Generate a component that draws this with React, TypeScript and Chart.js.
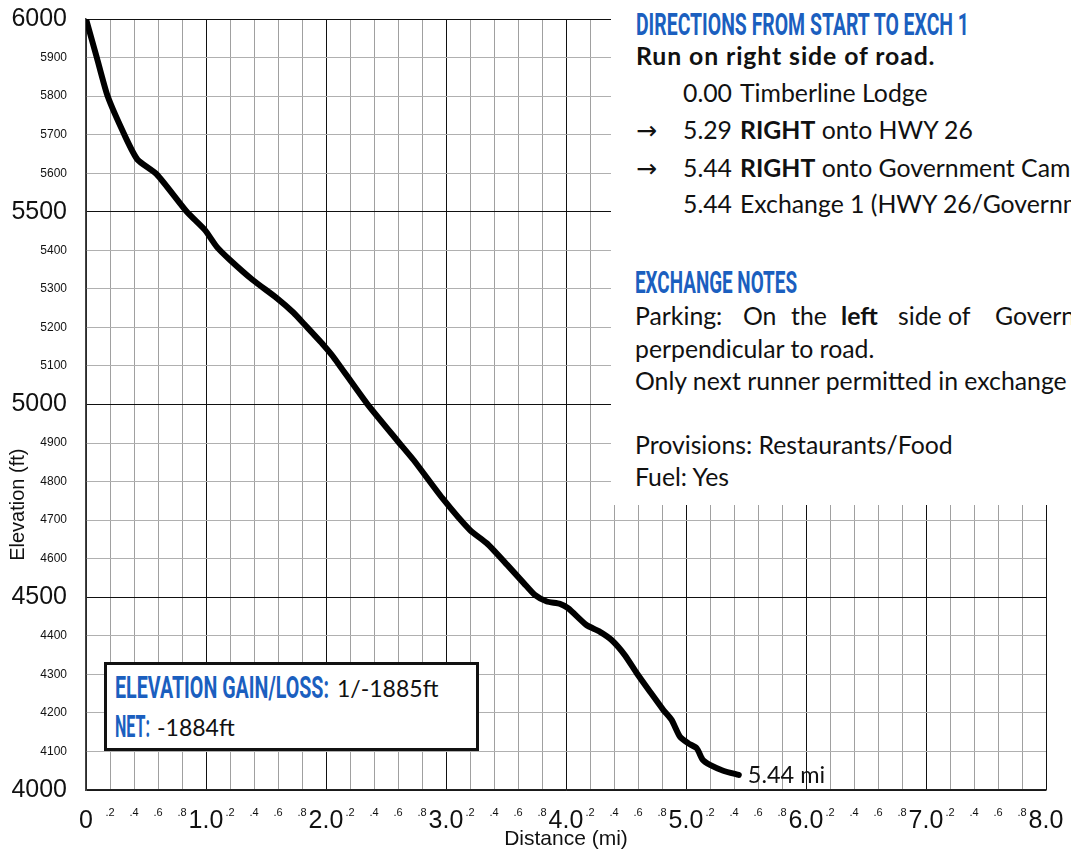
import React, { useEffect, useLayoutEffect, useRef } from "react";
import { Chart, registerables } from "chart.js";

Chart.register(...registerables);

// ---- data ----
const distanceMi = [
  0, 0.09, 0.18, 0.33, 0.43, 0.59, 0.84, 0.99, 1.09, 1.2, 1.39, 1.59, 1.73, 1.82, 1.98, 2.06, 2.34,
  2.59, 2.73, 2.97, 3.2, 3.34, 3.51, 3.65, 3.74, 3.84, 3.95, 4.02, 4.17, 4.28, 4.38, 4.49, 4.59,
  4.7, 4.81, 4.88, 4.95, 5.02, 5.09, 5.14, 5.2, 5.31, 5.44,
];
const elevationFt = [
  6000, 5900, 5800, 5693, 5635, 5597, 5500, 5453, 5409, 5375, 5323, 5276, 5238, 5208, 5154, 5124, 5003,
  4908, 4856, 4757, 4674, 4640, 4584, 4536, 4506, 4489, 4483, 4471, 4428, 4411, 4389, 4350, 4303,
  4255, 4208, 4182, 4138, 4121, 4108, 4078, 4065, 4050, 4039,
];
const xLimits = [0, 8];
const yLimits = [4000, 6000];
const xStepMi = 0.2;
const yStepFt = 100;
const yMajorStepFt = 500;
const xAxisTitle = "Distance (mi)";
const yAxisTitle = "Elevation (ft)";
const endLabel = "5.44 mi";

const directionsTitle = "DIRECTIONS FROM START TO EXCH 1";
const directionsNote = "Run on right side of road.";
const directionArrows = ["", "→", "→", ""];
const directionMiles = ["0.00", "5.29", "5.44", "5.44"];
const directionBold = ["", "RIGHT", "RIGHT", ""];
const directionText = [
  "Timberline Lodge",
  " onto HWY 26",
  " onto Government Camp Loop",
  "Exchange 1 (HWY 26/Government Camp Loop)",
];
const notesTitle = "EXCHANGE NOTES";
const parkingWords = ["Parking:", "On", "the", "left", "side", "of", "Government Camp Loop,"];
const parkingBold = [false, false, false, true, false, false, false];
const notesLines = [
  "perpendicular to road.",
  "Only next runner permitted in exchange area.",
  "",
  "Provisions: Restaurants/Food",
  "Fuel: Yes",
];
const gainLabel = "ELEVATION GAIN/LOSS:";
const gainValue = "1/-1885ft";
const netLabel = "NET:";
const netValue = "-1884ft";

// ---- styles ----
const BLUE = "#1b5fbf";
const INK = "#111";
const BODY = '"Lato", "Open Sans", sans-serif';
const HEAD = 'Roboto, "DejaVu Sans", sans-serif';
const TICKF = '"Liberation Sans", Arial, sans-serif';
const BODY_SIZE = 24.8;

const isMajorX = (v: number) => Math.abs(v - Math.round(v)) < 1e-6;
const isMajorY = (v: number) => Math.abs(v / yMajorStepFt - Math.round(v / yMajorStepFt)) < 1e-6;

const annotationPlugin = {
  id: "annotationText",
  afterDatasetsDraw(chart: any) {
    const { ctx, chartArea, scales } = chart;
    const xs = scales.x;
    const ys = scales.y;
    const lx = distanceMi[distanceMi.length - 1];
    const ly = elevationFt[elevationFt.length - 1];
    ctx.save();
    ctx.fillStyle = INK;
    ctx.font = `23.5px ${BODY}`;
    ctx.textAlign = "left";
    ctx.textBaseline = "alphabetic";
    ctx.fillText(endLabel, xs.getPixelForValue(lx) + 9, ys.getPixelForValue(ly) + 8);

    ctx.font = `21px ${TICKF}`;
    ctx.textAlign = "center";
    ctx.textBaseline = "middle";
    ctx.fillText(xAxisTitle, (chartArea.left + chartArea.right) / 2, chartArea.bottom + 49);

    ctx.font = `20px ${TICKF}`;
    ctx.translate(18, ys.getPixelForValue(4740));
    ctx.rotate(-Math.PI / 2);
    ctx.fillText(yAxisTitle, 0, 0);
    ctx.restore();
  },
};

function Heading({ x, top, w, children }: any) {
  return (
    <span
      data-fitw={w}
      style={{
        position: "absolute",
        left: x,
        top,
        fontFamily: HEAD,
        fontWeight: 700,
        fontSize: 32,
        lineHeight: "32px",
        color: BLUE,
        whiteSpace: "nowrap",
        display: "inline-block",
        transformOrigin: "0 0",
      }}
    >
      {children}
    </span>
  );
}

function Txt({ x, top, size = BODY_SIZE, bold = false, spacing = 0, children }: any) {
  return (
    <span
      style={{
        position: "absolute",
        left: x,
        top,
        fontFamily: BODY,
        fontWeight: bold ? 700 : 400,
        fontSize: size,
        lineHeight: "30px",
        letterSpacing: spacing,
        color: INK,
        whiteSpace: "nowrap",
      }}
    >
      {children}
    </span>
  );
}

export default function App() {
  const canvasRef = useRef<HTMLCanvasElement | null>(null);
  const rootRef = useRef<HTMLDivElement | null>(null);

  useLayoutEffect(() => {
    const root = rootRef.current;
    if (!root) return;
    root.querySelectorAll<HTMLElement>("[data-fitw]").forEach((el) => {
      el.style.transform = "none";
      const w = el.getBoundingClientRect().width;
      const target = Number(el.dataset.fitw);
      if (w > 0) el.style.transform = `scaleX(${target / w})`;
    });
  }, []);

  useEffect(() => {
    const canvas = canvasRef.current;
    if (!canvas) return;
    Chart.defaults.font.family = TICKF;
    const chart = new Chart(canvas, {
      type: "line",
      data: {
        datasets: [
          {
            data: distanceMi.map((d, i) => ({ x: d, y: elevationFt[i] })),
            borderColor: "#000",
            borderWidth: 6,
            pointRadius: 0,
            tension: 0.2,
            borderJoinStyle: "round",
            borderCapStyle: "round",
            fill: false,
          },
        ],
      },
      options: {
        animation: false,
        responsive: false,
        maintainAspectRatio: false,
        layout: { padding: { top: 19, right: 25, left: 0, bottom: 0 } },
        plugins: { legend: { display: false }, tooltip: { enabled: false } },
        scales: {
          x: {
            type: "linear",
            min: xLimits[0],
            max: xLimits[1],
            afterFit: (s: any) => {
              s.height = 60;
              s.paddingLeft = 0;
              s.paddingRight = 0;
            },
            ticks: {
              stepSize: xStepMi,
              autoSkip: false,
              maxRotation: 0,
              minRotation: 0,
              padding: 16,
              color: INK,
              font: (c: any) => ({ size: c.tick && isMajorX(c.tick.value) ? 25 : 11, family: TICKF }),
              callback: (value: any) => {
                const v = Number(value);
                if (isMajorX(v)) {
                  const r = Math.round(v);
                  return r === 0 ? "0" : r.toFixed(1);
                }
                const d = Math.round((v - Math.floor(v + 1e-9)) * 10);
                return "." + d;
              },
            },
            grid: {
              color: (c: any) => (c.tick && isMajorX(c.tick.value) ? "#111" : "#a0a0a0"),
              lineWidth: 1,
              drawTicks: false,
            },
            border: { color: "#222", width: 1.5 },
          },
          y: {
            type: "linear",
            min: yLimits[0],
            max: yLimits[1],
            afterFit: (s: any) => {
              s.width = 86;
              s.paddingTop = 0;
              s.paddingBottom = 0;
            },
            ticks: {
              stepSize: yStepFt,
              autoSkip: false,
              padding: 19,
              color: INK,
              font: (c: any) => ({ size: c.tick && isMajorY(c.tick.value) ? 25 : 12, family: TICKF }),
              callback: (value: any) => String(Math.round(Number(value))),
            },
            grid: {
              color: (c: any) => (c.tick && isMajorY(c.tick.value) ? "#111" : "#b0b0b0"),
              lineWidth: 1,
              drawTicks: false,
            },
            border: { color: "#444", width: 1.5 },
          },
        },
      } as any,
      plugins: [annotationPlugin],
    });
    return () => chart.destroy();
  }, []);

  const rowTops = [78, 115, 153, 189];
  const parkingX = [635, 743, 791, 841, 898, 948, 995];
  const notesTops = [334, 366, 398, 430, 462];

  return (
    <div
      ref={rootRef}
      style={{
        position: "fixed",
        left: 0,
        top: 0,
        width: 1071,
        height: 850,
        overflow: "hidden",
        background: "#fff",
      }}
    >
      <canvas ref={canvasRef} width={1071} height={850} style={{ position: "absolute", left: 0, top: 0 }} />

      {/* right text panel */}
      <div style={{ position: "absolute", left: 611, top: 0, width: 460, height: 505, background: "#fff" }} />
      <Heading x={636} top={8} w={333}>
        {directionsTitle}
      </Heading>
      <Txt x={636} top={41} bold spacing={0.9}>
        {directionsNote}
      </Txt>
      {directionMiles.map((m, i) => (
        <React.Fragment key={i}>
          {directionArrows[i] && (
            <Txt x={636} top={rowTops[i]}>
              <span style={{ fontFamily: '"DejaVu Sans", sans-serif', fontSize: 25 }}>{directionArrows[i]}</span>
            </Txt>
          )}
          <Txt x={683} top={rowTops[i]}>
            {m}
          </Txt>
          <Txt x={740} top={rowTops[i]}>
            {directionBold[i] && <b>{directionBold[i]}</b>}
            {directionText[i]}
          </Txt>
        </React.Fragment>
      ))}

      <Heading x={635} top={266} w={162}>
        {notesTitle}
      </Heading>
      {parkingWords.map((w, i) => (
        <Txt key={"p" + i} x={parkingX[i]} top={301} bold={parkingBold[i]}>
          {w}
        </Txt>
      ))}
      {notesLines.map((l, i) =>
        l ? (
          <Txt key={"n" + i} x={635} top={notesTops[i]}>
            {l}
          </Txt>
        ) : null
      )}

      {/* elevation box */}
      <div
        style={{
          position: "absolute",
          left: 104,
          top: 662,
          width: 375,
          height: 89,
          boxSizing: "border-box",
          border: "3px solid #111",
          background: "#fff",
        }}
      />
      <Heading x={115} top={671} w={214}>
        {gainLabel}
      </Heading>
      <Txt x={337} top={673} size={23}>
        {gainValue}
      </Txt>
      <Heading x={115} top={710} w={35}>
        {netLabel}
      </Heading>
      <Txt x={157} top={712} size={23}>
        {netValue}
      </Txt>
    </div>
  );
}
